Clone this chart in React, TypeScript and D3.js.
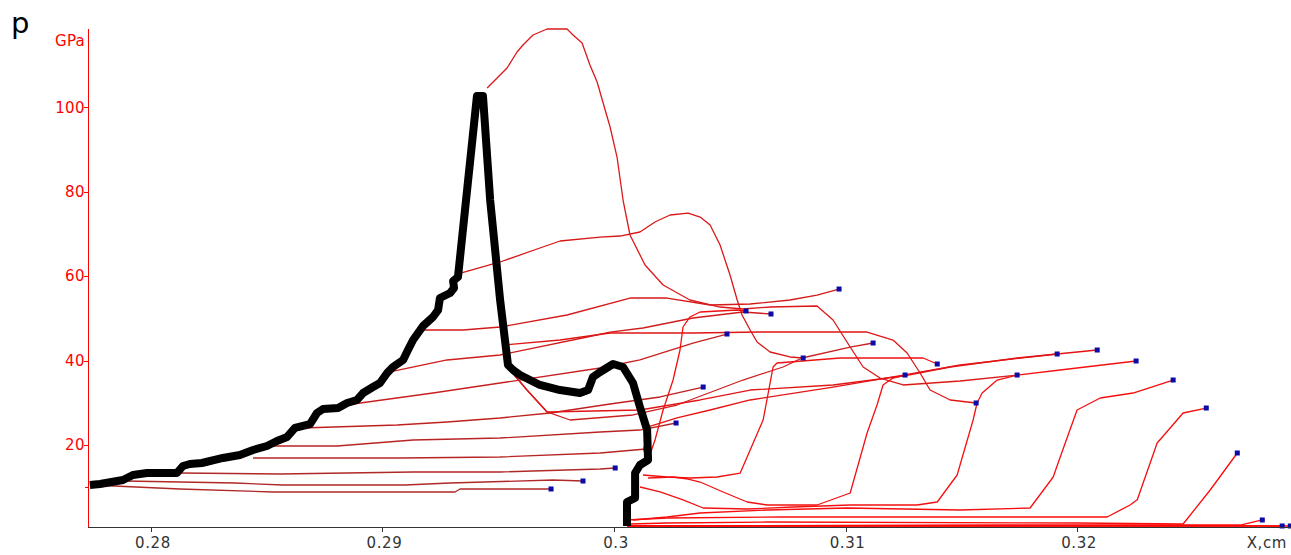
import React from "react";
import * as d3 from "d3";

type Pt = [number, number];

const xTicks = [0.28, 0.29, 0.3, 0.31, 0.32];
const xTickLabels = ["0.28", "0.29", "0.3", "0.31", "0.32"];
const yTicks = [20, 40, 60, 80, 100];
const yTickLabels = ["20", "40", "60", "80", "100"];
const yMinorTicks = [10];

// Locus of the left boundary (thick black curve): [x, cm ; p, GPa]
const envelope: Pt[] = [
  [0.27736, 10.54], [0.2778, 10.78], [0.27879, 11.73], [0.27922, 12.91], [0.27983, 13.38], [0.28112, 13.38],
  [0.28138, 15.04], [0.28168, 15.51], [0.2822, 15.75], [0.28311, 16.94], [0.28384, 17.65], [0.28441, 18.83],
  [0.28501, 19.78], [0.28544, 20.96], [0.28588, 21.91], [0.28622, 24.04], [0.28687, 24.98], [0.28717, 27.59],
  [0.28743, 28.54], [0.28808, 28.77], [0.28847, 29.96], [0.2889, 30.67], [0.28916, 32.32], [0.28959, 33.74],
  [0.28989, 34.69], [0.2902, 37.06], [0.29045, 38.48], [0.29089, 40.14], [0.2911, 42.5], [0.29132, 44.87],
  [0.29175, 48.18], [0.29218, 50.32], [0.2924, 51.97], [0.29248, 54.81], [0.29292, 56.0], [0.29309, 57.18],
  [0.29305, 58.84], [0.29326, 59.79], [0.29408, 102.63], [0.29434, 102.63], [0.29465, 78.01], [0.29508, 54.34],
  [0.29542, 38.95], [0.29564, 37.77], [0.29594, 36.58], [0.2968, 34.22], [0.29767, 33.03], [0.29853, 32.32],
  [0.29888, 33.03], [0.29909, 36.11], [0.2994, 37.3], [0.29996, 39.19], [0.30039, 38.48], [0.30082, 34.69],
  [0.30112, 29.01], [0.30143, 23.56], [0.30147, 16.46], [0.30112, 15.28], [0.30091, 13.38], [0.30091, 7.47],
  [0.30056, 6.52], [0.30056, 0.84],
];

// Pressure profiles p(x) at successive times (last point = shock front)
const pE1: Pt[] = [[0.27745, 10.54], [0.28125, 9.6], [0.28527, 8.89], [0.29313, 8.89], [0.29335, 9.6], [0.29728, 9.6]];
const pE2: Pt[] = [[0.27888, 11.49], [0.28363, 11.02], [0.2857, 10.54], [0.29097, 10.54], [0.29292, 11.02], [0.29737, 11.73], [0.29866, 11.49]];
const pE3: Pt[] = [[0.28125, 13.38], [0.28557, 13.15], [0.29132, 13.62], [0.29508, 13.62], [0.2994, 14.33], [0.30005, 14.57]];
const pE4: Pt[] = [[0.28441, 16.94], [0.29076, 16.94], [0.29508, 17.17], [0.2994, 18.12], [0.30138, 19.07]];
const pE5: Pt[] = [[0.28514, 19.78], [0.28804, 19.78], [0.29132, 21.2], [0.29508, 21.67], [0.2994, 23.09], [0.30112, 23.56], [0.30268, 25.22]];
const pE6: Pt[] = [[0.28652, 24.04], [0.29063, 24.75], [0.29279, 25.46], [0.29508, 26.41], [0.29724, 27.59], [0.29983, 29.72], [0.30199, 31.38], [0.30385, 33.74]];
const pE7: Pt[] = [[0.28873, 29.72], [0.29218, 32.32], [0.29508, 34.69], [0.2994, 38.24], [0.30112, 40.14], [0.30341, 44.16], [0.30488, 46.29]];
const pE8: Pt[] = [[0.29032, 37.3], [0.29279, 40.14], [0.29508, 41.32], [0.29884, 45.58], [0.29983, 46.76], [0.30125, 47.71], [0.30341, 50.08], [0.30557, 51.5], [0.30678, 51.03]];
const pE9: Pt[] = [[0.29175, 47.24], [0.29348, 47.24], [0.29508, 47.95], [0.29797, 50.79], [0.30069, 54.81], [0.30229, 54.81], [0.30415, 53.16], [0.30588, 53.39], [0.3076, 54.34], [0.30877, 55.52], [0.30972, 56.94]];
const pE10: Pt[] = [
  [0.29326, 60.5], [0.29508, 63.34], [0.2968, 66.65], [0.29767, 68.31], [0.2994, 69.25], [0.30026, 69.49], [0.30112, 70.44],
  [0.30177, 72.8], [0.30242, 74.46], [0.3032, 74.93], [0.30372, 73.98], [0.30415, 72.09], [0.30458, 67.36], [0.30501, 60.26],
  [0.30532, 54.34], [0.30553, 50.79], [0.30588, 47.24], [0.30618, 44.4], [0.30674, 42.03], [0.3076, 40.85], [0.30817, 40.61],
];
const pPeak: Pt[] = [
  [0.29452, 104.53], [0.29495, 106.89], [0.29538, 109.26], [0.29581, 113.05], [0.29607, 114.71], [0.2965, 117.08],
  [0.29711, 118.5], [0.29797, 118.5], [0.29823, 117.08], [0.29862, 115.18], [0.29896, 109.97], [0.29927, 105.95],
  [0.29953, 100.97], [0.29983, 95.3], [0.30013, 88.19], [0.30039, 78.01], [0.30069, 69.73], [0.30134, 62.63],
  [0.30212, 57.89], [0.30328, 54.34], [0.30458, 52.68], [0.30557, 52.21], [0.30674, 52.68], [0.30877, 52.92],
  [0.30946, 49.61], [0.3102, 43.21], [0.31076, 38.48], [0.31149, 35.87], [0.31249, 34.22], [0.31495, 35.16], [0.31741, 36.58],
];
const pH: Pt[] = [[0.29529, 43.69], [0.29767, 44.87], [0.29983, 46.53], [0.30341, 46.53], [0.30631, 46.76], [0.31093, 46.76], [0.31205, 44.87], [0.31266, 41.79], [0.31322, 37.06], [0.31365, 33.03], [0.31452, 30.67], [0.31564, 29.96]];
const pD: Pt[] = [[0.29551, 37.77], [0.29624, 33.03], [0.29711, 27.83], [0.2981, 25.93], [0.30082, 27.12], [0.30272, 29.48], [0.30557, 35.4], [0.3073, 38.48], [0.30812, 40.61], [0.3102, 43.21], [0.31119, 44.16]];
const pK1: Pt[] = [[0.29551, 37.77], [0.29624, 33.03], [0.29711, 27.83], [0.30112, 28.3], [0.30372, 30.67], [0.30588, 33.03], [0.30946, 34.22], [0.31249, 36.35], [0.31452, 38.48], [0.31741, 40.61], [0.31914, 41.56]];
const pK2: Pt[] = [[0.30134, 24.04], [0.30272, 26.41], [0.30415, 28.3], [0.30588, 30.67], [0.30946, 33.74], [0.31249, 36.58], [0.31495, 38.95], [0.31914, 41.56], [0.32087, 42.5]];
const pRa: Pt[] = [[0.30147, 16.46], [0.30177, 21.2], [0.30212, 28.3], [0.30255, 35.4], [0.30285, 42.5], [0.30298, 47.95], [0.30328, 50.32], [0.30372, 51.5], [0.30532, 51.97], [0.3057, 51.74]];
const pRb: Pt[] = [[0.30125, 12.91], [0.30229, 12.44], [0.30328, 12.2], [0.30445, 12.44], [0.30545, 13.38], [0.30644, 25.93], [0.30687, 38.48], [0.30704, 39.43], [0.30977, 40.61], [0.31335, 40.61], [0.31396, 39.19]];
const pRc: Pt[] = [[0.30147, 12.2], [0.30255, 12.44], [0.3032, 11.96], [0.30372, 11.25], [0.30471, 8.89], [0.30575, 6.52], [0.30661, 5.81], [0.30877, 5.81], [0.3102, 8.65], [0.31093, 22.85], [0.31136, 29.48], [0.31162, 34.22], [0.31205, 35.87], [0.31257, 36.58]];
const pRd: Pt[] = [[0.30112, 10.07], [0.30199, 8.89], [0.30298, 7.04], [0.30385, 5.1], [0.30575, 4.86], [0.30773, 5.33], [0.3102, 5.81], [0.31309, 5.81], [0.31396, 6.52], [0.31482, 12.91], [0.31551, 25.93], [0.31568, 29.96], [0.3159, 32.32], [0.31655, 35.4], [0.31741, 36.58], [0.31927, 37.77], [0.32255, 39.9]];
const pRe: Pt[] = [[0.30082, 2.26], [0.30229, 2.97], [0.30372, 3.91], [0.30661, 4.62], [0.31007, 5.1], [0.31495, 4.62], [0.31797, 5.1], [0.31897, 12.44], [0.31918, 15.75], [0.32, 28.3], [0.321, 31.14], [0.32242, 32.32], [0.32415, 35.4]];
const pRf: Pt[] = [[0.30056, 2.26], [0.30229, 2.73], [0.3073, 2.97], [0.31655, 2.97], [0.3213, 2.97], [0.32229, 5.81], [0.3226, 7.04], [0.32346, 20.49], [0.32458, 27.59], [0.32558, 28.77]];
const pRg: Pt[] = [[0.30069, 1.31], [0.30229, 1.55], [0.30661, 1.78], [0.32, 1.55], [0.32458, 1.31], [0.32575, 9.36], [0.32692, 18.12]];
const pRh: Pt[] = [[0.30056, 0.84], [0.31667, 1.07], [0.32705, 1.07], [0.328, 2.26]];
const pRi: Pt[] = [[0.30056, 0.84], [0.32886, 0.84]];
const pRj: Pt[] = [[0.30056, 0.84], [0.32921, 0.84]];

const profiles: Pt[][] = [
  pE1, pE2, pE3, pE4, pE5, pE6, pE7, pE8, pE9, pE10, pPeak, pH, pD, pK1, pK2,
  pRa, pRb, pRc, pRd, pRe, pRf, pRg, pRh, pRi, pRj,
];
const profileColors = [
  "#b02828", "#b02828", "#b02828", "#b82424", "#b82424", "#c02020", "#c82020", "#d01c1c", "#d41a1a", "#d81818",
  "#dd1818", "#e01616", "#cc2020", "#e01616", "#e41414",
  "#f01010", "#f01010", "#f21010", "#f41010", "#f60e0e", "#f80c0c", "#fa0a0a", "#fc0808", "#fe0606", "#ff0404",
];

export default function App() {
  const W = 1291;
  const H = 555;
  const x = d3.scaleLinear().domain([0.27728, 0.32924]).range([88, 1291]);
  const y = d3.scaleLinear().domain([0.6, 118.5]).range([527, 29]);
  const line = d3
    .line<Pt>()
    .x((d) => x(d[0]))
    .y((d) => y(d[1]));
  const font = "'DejaVu Sans', Verdana, sans-serif";
  const axisY = 527;
  const axisX = 88;

  return (
    <svg
      width={W}
      height={H}
      style={{ position: "absolute", left: 0, top: 0, background: "#ffffff" }}
      fontFamily={font}
    >
      <rect x={0} y={0} width={W} height={H} fill="#ffffff" />
      <text x={11} y={33} fontSize={29} fill="#000">p</text>

      {/* profiles */}
      {profiles.map((p, i) => (
        <path key={"p" + i} d={line(p) || ""} fill="none" stroke={profileColors[i]} strokeWidth={1.3} strokeLinejoin="round" />
      ))}
      {/* front markers */}
      {profiles.map((p, i) => {
        const last = p[p.length - 1];
        return (
          <rect key={"m" + i} x={x(last[0]) - 2.5} y={y(last[1]) - 2.5} width={5} height={5} fill="#0a0aa8" />
        );
      })}

      {/* black boundary locus */}
      <path d={line(envelope) || ""} fill="none" stroke="#000" strokeWidth={8} strokeLinejoin="round" />

      {/* X axis */}
      <line x1={axisX} x2={W} y1={axisY + 0.5} y2={axisY + 0.5} stroke="#333" strokeWidth={1} shapeRendering="crispEdges" />
      {xTicks.map((t, i) => (
        <g key={"xt" + i}>
          <line x1={Math.round(x(t)) + 0.5} x2={Math.round(x(t)) + 0.5} y1={axisY} y2={axisY + 5} stroke="#333" shapeRendering="crispEdges" />
          <text x={x(t) + 2} y={548} fontSize={15} fill="#333" textAnchor="middle" letterSpacing={0.6}>
            {xTickLabels[i]}
          </text>
        </g>
      ))}
      <text x={1287} y={548} fontSize={15} fill="#333" textAnchor="end" letterSpacing={0.6}>X,cm</text>

      {/* Y axis */}
      <line x1={axisX + 0.5} x2={axisX + 0.5} y1={29} y2={axisY} stroke="#ff0000" strokeWidth={1} shapeRendering="crispEdges" />
      {yTicks.map((t, i) => (
        <g key={"yt" + i}>
          <line x1={axisX - 4} x2={axisX} y1={Math.round(y(t)) + 0.5} y2={Math.round(y(t)) + 0.5} stroke="#ff0000" shapeRendering="crispEdges" />
          <text x={85} y={y(t)} dy="0.36em" fontSize={15} fill="#ff0000" textAnchor="end" letterSpacing={0.4}>
            {yTickLabels[i]}
          </text>
        </g>
      ))}
      {yMinorTicks.map((t, i) => (
        <line key={"ym" + i} x1={axisX - 3} x2={axisX} y1={Math.round(y(t)) + 0.5} y2={Math.round(y(t)) + 0.5} stroke="#ff0000" shapeRendering="crispEdges" />
      ))}
      <text x={55} y={46} fontSize={15} fill="#ff0000" letterSpacing={0.3}>GPa</text>
    </svg>
  );
}
